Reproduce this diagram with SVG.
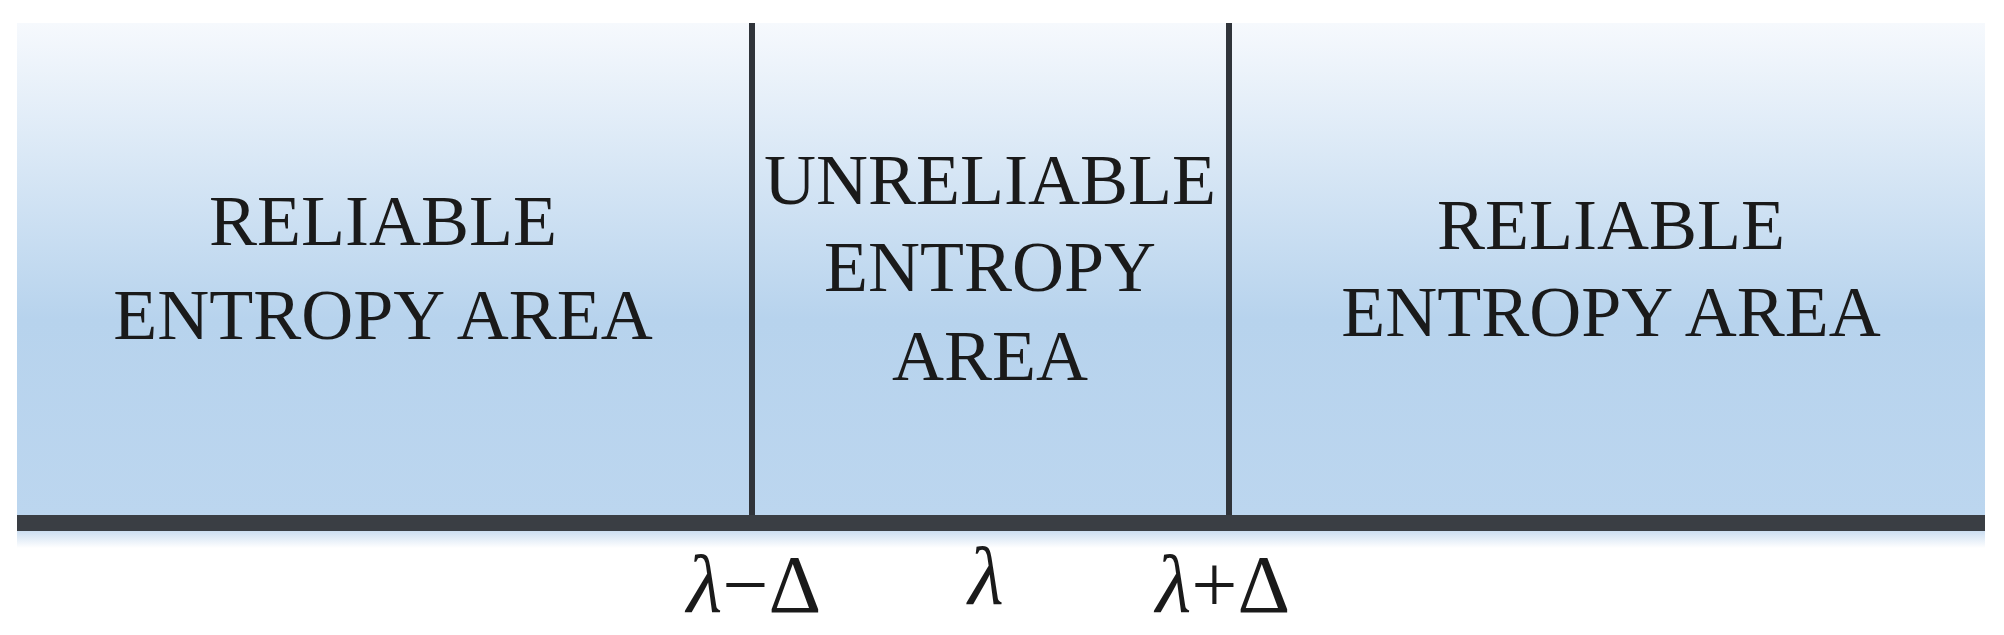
<svg xmlns="http://www.w3.org/2000/svg" width="2004" height="635" viewBox="0 0 2004 635">
<defs>
<linearGradient id="bg" x1="0" y1="0" x2="0" y2="1">
<stop offset="0" stop-color="#f6f9fd"/>
<stop offset="0.6" stop-color="#b7d3ed"/>
<stop offset="1" stop-color="#bcd6ef"/>
</linearGradient>
<linearGradient id="sh" x1="0" y1="0" x2="0" y2="1">
<stop offset="0" stop-color="#c9dcf0"/>
<stop offset="1" stop-color="#ffffff"/>
</linearGradient>
</defs>
<style>
.t{font-family:"Liberation Serif",serif;font-size:72px;fill:#1a1a1a;text-anchor:middle}
.m{font-family:"Liberation Serif",serif;font-size:82px;fill:#1a1a1a;text-anchor:middle}
.d{stroke:#30343a;stroke-width:6}
</style>
<rect x="17" y="23" width="1968" height="495" fill="url(#bg)"/>
<rect x="17" y="530" width="1968" height="18" fill="url(#sh)"/>
<g id="areas">
<g id="left"><text class="t" x="383" y="245">RELIABLE</text><text class="t" x="383" y="339">ENTROPY AREA</text></g>
<g id="middle"><text class="t" x="990" y="204">UNRELIABLE</text><text class="t" x="990" y="291">ENTROPY</text><text class="t" x="990" y="380">AREA</text></g>
<g id="right"><text class="t" x="1611" y="249">RELIABLE</text><text class="t" x="1611" y="336">ENTROPY AREA</text></g>
</g>
<g id="connectors">
<line class="d" x1="752" y1="23" x2="752" y2="518"/>
<line class="d" x1="1229" y1="23" x2="1229" y2="518"/>
<rect x="17" y="515" width="1968" height="16" fill="#3a3e44"/>
</g>
<g id="labels">
<text class="m" x="754" y="612"><tspan font-style="italic">λ</tspan>−Δ</text>
<text class="m" x="986" y="604" font-style="italic">λ</text>
<text class="m" x="1223" y="612"><tspan font-style="italic">λ</tspan>+Δ</text>
</g>
</svg>
